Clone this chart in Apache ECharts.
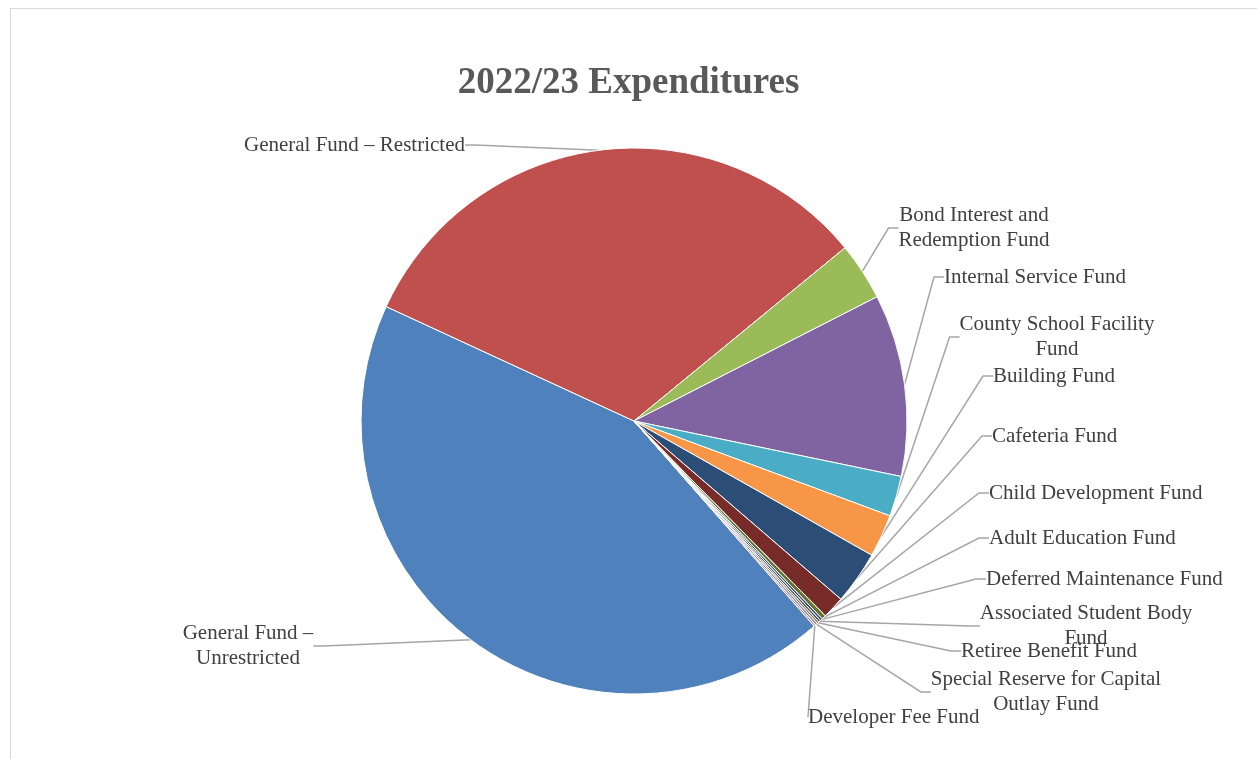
<!DOCTYPE html>
<html>
<head>
<meta charset="utf-8">
<script src="https://cdn.jsdelivr.net/npm/echarts@6/dist/echarts.min.js"></script>
<style>
html,body{margin:0;padding:0;background:#fff;}
#frame{position:absolute;left:10px;top:8px;width:1260px;height:770px;border:1px solid #d9d9d9;box-sizing:border-box;}
#chart{position:absolute;left:0;top:0;width:1257px;height:759px;}
</style>
</head>
<body>
<div id="frame"></div>
<div id="chart"></div>
<script>
const titleText = '2022/23 Expenditures';
const categories = [
  'General Fund –\nUnrestricted',
  'General Fund – Restricted',
  'Bond Interest and\nRedemption Fund',
  'Internal Service Fund',
  'County School Facility\nFund',
  'Building Fund',
  'Cafeteria Fund',
  'Child Development Fund',
  'Adult Education Fund',
  'Deferred Maintenance Fund',
  'Associated Student Body\nFund',
  'Retiree Benefit Fund',
  'Special Reserve for Capital\nOutlay Fund',
  'Developer Fee Fund'
];
const values = [43.36, 32.18, 3.42, 10.78, 2.39, 2.53, 3.14, 1.33, 0.25, 0.14, 0.14, 0.11, 0.14, 0.10];
const colors = ['#4F81BD','#C0504D','#9BBB59','#8064A2','#4BACC6','#F79646','#2C4D75','#772C2A','#5F7530','#4D3B62','#276A7C','#B65708','#729ACA','#CD7371'];
// label anchor positions [x, y, align] (layout only)
const labelPos = [
  [248, 646, 'center'],
  [465, 145, 'right'],
  [974, 228, 'center'],
  [944, 277, 'left'],
  [1057, 337, 'center'],
  [993, 376, 'left'],
  [992, 436, 'left'],
  [989, 493, 'left'],
  [989, 538, 'left'],
  [986, 579, 'left'],
  [1086, 626, 'center'],
  [961, 651, 'left'],
  [1046, 692, 'center'],
  [808, 717, 'left']
];

const chart = echarts.init(document.getElementById('chart'), null, {renderer: 'canvas'});
chart.setOption({
  animation: false,
  backgroundColor: 'transparent',
  title: {
    text: titleText,
    left: 'center',
    top: 60,
    textStyle: {fontFamily: 'Liberation Serif', fontWeight: 'bold', fontSize: 37, color: '#595959'}
  },
  series: [{
    type: 'pie',
    center: [634, 421],
    radius: 273,
    startAngle: -48.7,
    clockwise: true,
    data: categories.map((c, i) => ({name: c, value: values[i], itemStyle: {color: colors[i]}})),
    itemStyle: {borderColor: '#ffffff', borderWidth: 1},
    label: {
      show: true,
      formatter: '{b}',
      fontFamily: 'Liberation Serif',
      fontSize: 21,
      lineHeight: 25,
      color: '#404040',
      align: 'center'
    },
    labelLine: {show: true, length: 10, length2: 10, lineStyle: {color: '#a6a6a6', width: 1.5}},
    labelLayout: function (p) {
      const lp = labelPos[p.dataIndex];
      return {x: lp[0], y: lp[1], align: lp[2], verticalAlign: 'middle', hideOverlap: false};
    }
  }]
});
</script>
</body>
</html>
